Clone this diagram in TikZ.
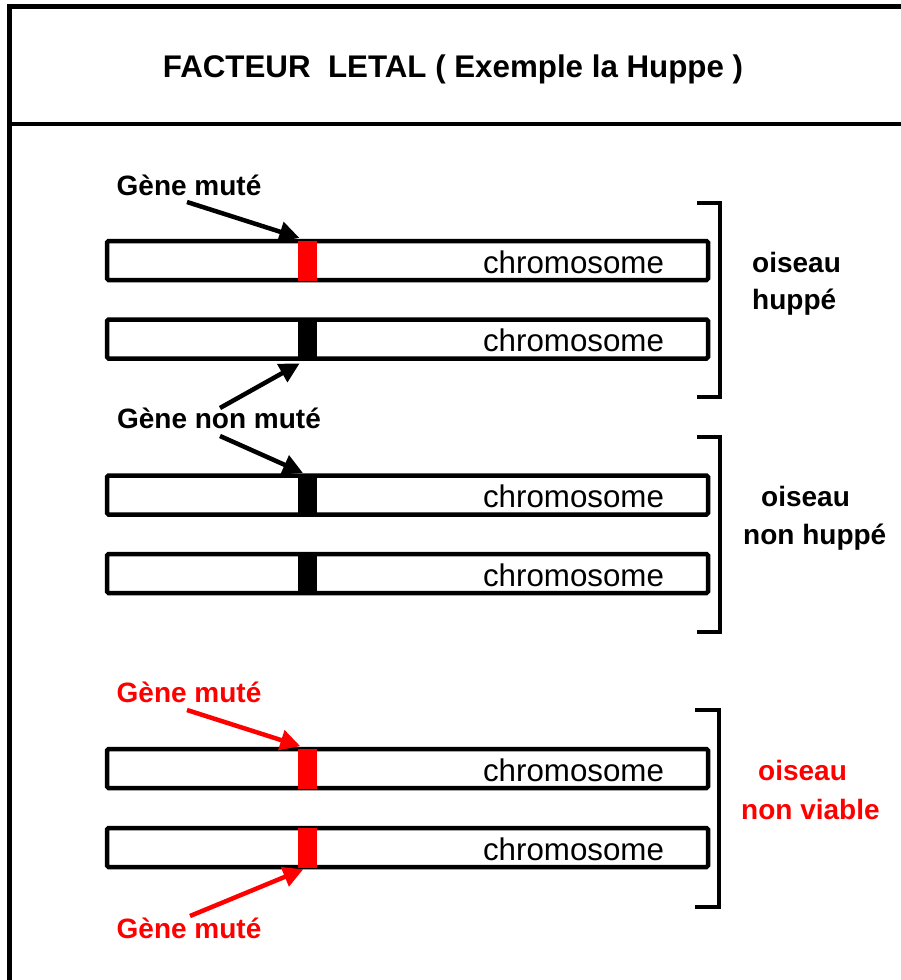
\documentclass[tikz,border=0pt]{standalone}
\usepackage{fontspec}
\setmainfont{Liberation Sans}
\usetikzlibrary{arrows.meta}
\definecolor{myred}{RGB}{255,0,0}
\tikzset{
  chrom/.style={draw, line width=4.5pt, rounded corners=1.5pt, minimum width=601pt, minimum height=39pt, inner sep=0pt, outer sep=0pt},
  band/.style={fill=#1, draw=none, minimum width=19pt, minimum height=40pt, inner sep=0pt, outer sep=0pt},
  ctext/.style={anchor=base, inner sep=0pt, font=\fontsize{31.3}{34}\selectfont},
  lab/.style={anchor=base, inner sep=0pt, font=\fontsize{28}{30}\selectfont\bfseries},
  blab/.style={anchor=base west, inner sep=0pt, font=\fontsize{28}{30}\selectfont\bfseries},
  arr/.style={line width=4.5pt, -{Triangle[length=20pt,width=20pt]}},
  brk/.style={line width=4.5pt},
  frame/.style={line width=4.5pt}
}
\begin{document}
\begin{tikzpicture}[x=1pt,y=-1pt]
\useasboundingbox (0,0) rectangle (901,980);
\fill[white] (0,0) rectangle (901,980);
% frame
\begin{scope}
\clip (0,0) rectangle (901,980);
\draw[frame] (9.5,990) -- (9.5,6.5) -- (910,6.5);
\draw[frame] (9.5,124) -- (910,124);
\end{scope}
\node[anchor=base, inner sep=0pt, font=\fontsize{31.3}{34}\selectfont\bfseries] (title) at (453,77) {FACTEUR\ \ LETAL ( Exemple la Huppe )};
% chromosomes
\node[chrom] (c1) at (407.5,260.5) {};
\node[chrom] (c2) at (407.5,339) {};
\node[chrom] (c3) at (407.5,495) {};
\node[chrom] (c4) at (407.5,573.5) {};
\node[chrom] (c5) at (407.5,768.5) {};
\node[chrom] (c6) at (407.5,847.5) {};
\node[band=myred] (b1) at (307.5,260.5) {};
\node[band=black] (b2) at (307.5,339) {};
\node[band=black] (b3) at (307.5,495) {};
\node[band=black] (b4) at (307.5,573.5) {};
\node[band=myred] (b5) at (307.5,768.5) {};
\node[band=myred] (b6) at (307.5,847.5) {};
\node[ctext] (t1) at (573.5,273.3) {chromosome};
\node[ctext] (t2) at (573.5,351.8) {chromosome};
\node[ctext] (t3) at (573.5,507.8) {chromosome};
\node[ctext] (t4) at (573.5,586.3) {chromosome};
\node[ctext] (t5) at (573.5,781.3) {chromosome};
\node[ctext] (t6) at (573.5,860.3) {chromosome};
% gene labels
\node[lab] (g1) at (189,195) {Gène muté};
\node[lab] (g2) at (219,428) {Gène non muté};
\node[lab, text=myred] (g3) at (189,702) {Gène muté};
\node[lab, text=myred] (g4) at (189,938) {Gène muté};
% arrows
\coordinate (a1) at (187,202);
\coordinate (a2) at (220,408);
\coordinate (a3) at (220,436);
\coordinate (a4) at (187,710);
\coordinate (a5) at (190,916);
\draw[arr, shorten >=8.5pt] (a1) -- (b1.north);
\draw[arr, shorten >=9pt] (a2) -- (b2.south);
\draw[arr, shorten >=5pt] (a3) -- (b3.north);
\draw[arr, myred, shorten >=7.5pt] (a4) -- (b5.north);
\draw[arr, myred, shorten >=4.5pt] (a5) -- (b6.south);
% brackets
\draw[brk] (697,203) -- (720,203) -- (720,397) -- (697,397);
\draw[brk] (697,437) -- (720,437) -- (720,632) -- (697,632);
\draw[brk] (695,710) -- (719,710) -- (719,907) -- (695,907);
% bracket labels
\node[blab] (o1) at (752,272) {oiseau};
\node[blab] (h1) at (752,309) {huppé};
\node[blab] (o2) at (761,506) {oiseau};
\node[blab] (h2) at (743,544) {non huppé};
\node[blab, text=myred] (o3) at (758,780) {oiseau};
\node[blab, text=myred] (h3) at (741,819) {non viable};
\end{tikzpicture}
\end{document}
